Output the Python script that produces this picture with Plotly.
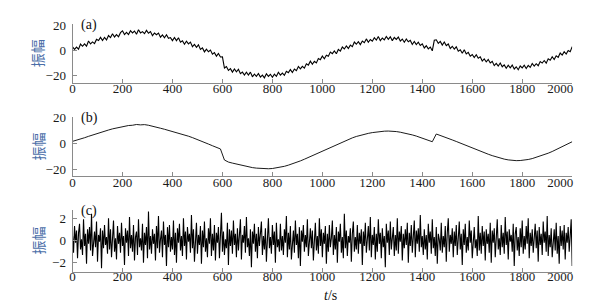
import plotly.graph_objects as go

# ---------------- data ----------------
t_b = list(range(0, 2001, 16))
b_vals = [1.5, 2.3, 3.4, 4.3, 5.4, 6.5, 7.6, 8.6, 9.4, 10.3, 11.2, 12.0, 12.8, 13.4, 13.8, 14.0,
          14.6, 14.3, 14.5, 14.0, 13.4, 12.6, 11.7, 10.9, 10.1, 9.2, 8.5, 7.6, 6.6, 5.5, 4.4, 3.3,
          2.0, 0.8, -0.6, -1.9, -3.2, -4.4, -13.0, -14.6, -15.4, -16.2, -17.0, -17.8, -18.4, -18.9, -19.3, -19.6,
          -19.8, -19.8, -19.6, -19.2, -18.6, -17.9, -17.0, -16.0, -14.9, -13.7, -12.4, -11.0, -9.6, -8.1, -6.6, -5.1,
          -3.6, -2.2, -0.8, 0.6, 1.9, 3.1, 4.2, 5.3, 6.2, 7.0, 7.7, 8.3, 8.8, 9.1, 9.4, 9.5,
          9.4, 9.1, 8.6, 8.0, 7.3, 6.5, 5.6, 4.6, 3.6, 2.5, 1.2, 7.2, 6.2, 5.0, 3.8, 2.6,
          1.4, 0.1, -1.2, -2.5, -3.8, -5.0, -6.2, -7.4, -8.5, -9.6, -10.6, -11.5, -12.3, -12.9, -13.3, -13.5,
          -13.4, -13.1, -12.6, -11.9, -11.0, -10.0, -8.9, -7.7, -6.4, -5.0, -3.6, -2.1, -0.5, 1.2]

t_a = list(range(0, 2001, 8))
a_vals = [2.8, 0.8, 2.7, 1.0, 5.0, 3.3, 5.2, 3.4, 7.4, 5.1, 6.7, 5.4, 8.7, 7.8, 10.3, 7.8,
          10.2, 8.3, 11.7, 10.1, 13.1, 10.6, 12.5, 10.7, 14.0, 15.4, 12.5, 14.2, 12.5, 15.5, 13.8, 15.3,
          12.8, 16.3, 13.8, 14.8, 13.2, 15.8, 13.5, 14.8, 11.6, 13.7, 12.4, 13.7, 10.4, 12.2, 9.9, 12.3,
          9.5, 10.1, 7.7, 10.2, 7.7, 10.0, 6.5, 7.6, 4.9, 7.3, 5.2, 6.6, 3.0, 4.7, 2.4, 4.4,
          0.8, 2.0, -1.1, 1.1, -1.0, 0.3, -2.9, -1.7, -4.5, -2.4, -5.1, -5.0, -13.8, -12.6, -15.7, -14.3,
          -17.0, -14.5, -16.7, -14.7, -18.2, -17.0, -19.3, -17.0, -19.3, -17.0, -20.7, -18.5, -20.3, -18.1, -20.9, -19.4,
          -21.5, -18.3, -20.4, -18.7, -21.0, -18.6, -20.3, -17.1, -19.3, -17.8, -19.5, -16.3, -17.4, -15.0, -17.3, -14.6,
          -15.9, -12.6, -14.5, -12.5, -13.9, -10.4, -11.5, -8.4, -10.8, -8.5, -9.8, -6.3, -7.2, -4.4, -6.5, -3.7,
          -4.6, -1.3, -2.5, -0.3, -2.6, 0.8, -0.5, 2.7, 1.2, 3.5, 1.6, 4.2, 3.0, 6.6, 4.9, 6.9,
          4.6, 7.4, 6.1, 9.1, 6.4, 8.6, 7.3, 10.0, 8.2, 10.9, 7.7, 9.8, 8.3, 11.0, 8.7, 10.7,
          7.7, 10.2, 8.7, 10.5, 7.4, 9.0, 6.5, 9.0, 6.8, 7.9, 4.7, 7.0, 4.6, 6.5, 3.9, 5.2,
          2.0, 3.7, 1.3, 2.7, -0.3, 8.0, 8.4, 5.6, 7.1, 4.2, 6.6, 3.8, 5.1, 1.5, 3.3, 1.1,
          2.9, -0.5, 0.5, -2.2, 0.6, -2.7, -1.5, -4.5, -3.2, -5.5, -3.3, -6.1, -5.0, -8.3, -6.6, -9.0,
          -7.1, -9.8, -8.5, -11.9, -10.1, -12.3, -9.9, -12.8, -11.3, -14.0, -11.6, -13.7, -11.5, -14.5, -12.8, -15.1,
          -12.2, -13.7,
          -11.6, -14.2, -11.7, -13.3, -10.2, -12.3, -10.4, -12.0, -8.7, -9.9, -7.9, -10.0, -6.6, -7.7, -4.9, -7.1,
          -4.2, -5.4, -2.0, -3.6, -0.9, -2.8, 0.0, -0.9, 3.0]

t_c = list(range(0, 2001, 4))
c_vals = [0.4, -1.1, 1.3, -0.2, 0.9, -1.6, 0.7, 1.5, -0.8, 0.1, -1.3, 1.9, -0.5, 0.6, -2.1, 1.0,
          -0.3, 1.2, -0.9, 2.4, -1.4, 0.2, 0.8, -0.6, 1.7, -1.9, 0.5, -0.1, 1.1, -2.5, 0.9, -0.7,
          1.4, -0.4, 0.3, -1.2, 2.0, -0.8, 1.0, -1.5, 0.6, 1.8, -1.0, 0.2, -1.7, 1.3, -0.3, 0.7,
          -1.1, 1.6, -0.5, 0.4, -2.2, 1.1, -0.2, 0.9, -1.4, 2.1, -0.7, 0.5, -1.0, 1.4, -1.8, 0.3,
          0.8, -1.3, 1.9, -0.6, 0.2, -0.9, 1.5, -2.0, 0.7, -0.4, 1.2, -1.6, 2.6, -0.8, 0.4, -1.2,
          1.0, -0.3, 0.6, -1.8, 1.3, -0.7, 2.2, -1.1, 0.1, 0.9, -1.5, 1.7, -0.4, 0.5, -2.3, 1.2,
          -0.6, 1.4, -1.0, 0.3, -0.8, 1.8, -1.3, 0.7, -2.0, 1.1, -0.2, 1.5, -0.9, 0.4, -1.4, 2.0,
          -0.5, 0.8, -1.7, 1.2, -0.1, 0.6, -1.1, 2.3, -0.7, 1.0, -1.9, 0.3, 1.6, -1.2, 0.5, -0.4,
          1.3, -2.1, 0.9, -0.6, 1.7, -1.0, 0.2, -1.5, 1.1, -0.3, 2.0, -1.4, 0.6, -0.9, 1.4, -1.8,
          0.7, -0.2, 1.2, -1.6, 0.4, 2.5, -1.0, 0.8, -1.3, 0.1, -0.7, 1.6, -2.2, 1.0, -0.5, 0.9,
          -1.2, 1.8, -0.4, 0.6, -1.5, 1.1, -0.9, 0.3, 1.9, -1.7, 0.5, -0.2, 1.3, -1.1, 2.1, -0.6,
          0.2, -1.4, 1.0, -2.4, 0.8, -0.3, 1.5, -1.0, 0.6, -1.6, 1.2, -0.5, 0.9, 1.7, -1.3, 0.4,
          -0.8, 1.1, -1.9, 0.5, 2.0, -0.7, 0.3, -1.2, 1.4, -0.4, 0.8, -2.0, 1.6, -0.6, 0.1, -1.0,
          1.5, -0.9, 0.4, -1.3, 1.0, -0.2, 2.2, -1.5, 0.7, -0.8, 1.3, -1.7, 0.2, 0.9, -1.1, 1.8,
          -0.4, 0.6, -1.6, 1.2, -2.3, 0.9, -0.1, 1.4, -1.0, 0.5, -0.6, 1.9, -1.4, 0.3, 1.1, -0.7,
          0.9, -1.8, 0.2, 1.6, -0.9, 0.4, -1.2, 2.0, -0.5, 1.0, -1.5, 0.7, -0.3, 1.3, -2.1, 0.6,
          -1.0, 1.4, -0.6, 0.2, 1.8, -1.3, 0.5, -0.8, 1.2, -2.0, 0.8, -0.1, 1.5, -1.1, 0.3, -1.6,
          2.4, -0.7, 0.9, -1.4, 0.4, -0.2, 1.1, -1.9, 0.6, 1.7, -1.0, 0.3, -0.8, 1.4, -1.2, 0.7,
          -0.3, 1.0, -2.2, 0.8, -0.5, 1.6, -1.1, 0.2, 1.3, -0.9, 2.1, -1.5, 0.5, -0.4, 1.2, -1.7,
          0.6, -1.0, 1.9, -0.3, 0.7, -1.6, 1.1, -0.6, 0.4, -2.4, 1.5, -0.2, 0.9, -1.3, 1.7, -0.8,
          0.3, 1.2, -1.4, 0.5, -0.9, 2.0, -1.2, 0.8, -0.1, 1.3, -1.8, 0.6, -0.7, 1.0, -0.4, 1.6,
          -2.0, 0.7, -0.5, 1.4, -1.1, 0.2, 1.8, -1.5, 0.9, -0.3, 1.1, -1.0, 2.3, -0.6, 0.4, -1.3,
          1.0, -0.8, 0.5, -1.7, 1.5, -0.2, 0.8, -1.2, 1.9, -0.7, 0.3, -1.4, 1.2, -2.1, 0.6, 0.1,
          -0.9, 1.6, -1.1, 0.4, -0.6, 1.3, -1.9, 0.7, 2.0, -1.0, 0.5, -0.3, 1.1, -1.5, 0.8, -0.5,
          1.4, -1.3, 0.2, 1.7, -0.8, 0.6, -2.2, 1.0, -0.4, 1.5, -1.1, 0.3, -0.9, 1.8, -0.2, 0.9,
          -1.6, 0.5, 1.2, -0.7, 0.1, -1.4, 2.2, -0.9, 0.7, -1.2, 1.3, -0.5, 0.8, -1.8, 1.0, -0.3,
          0.6, -1.1, 1.6, -2.0, 0.9, -0.2, 1.1, -1.5, 0.4, 1.9, -0.8, 0.2, -1.3, 1.4, -0.6, 0.7,
          -1.2, 2.1, -0.4, 0.8, -1.7, 1.0, -0.1, 0.5, -1.0, 1.5, -2.3, 0.6, 1.2, -0.9, 0.3, -1.4,
          1.1, -0.6, 1.8, -1.2, 0.4, -0.8, 1.3, -0.3, 2.0, -1.6, 0.7, -0.5, 1.0, -1.1, 0.2, 1.5,
          -0.7, 0.9, -1.9, 1.2, -0.4, 0.6, -1.3, 1.7, -0.2, 0.8, -1.0, 2.2, -1.4, 0.5, -0.6, 1.1,
          -1.5, 0.3, 1.0, -0.9, 1.6, -1.2, 0.4, -2.1, 1.3, -0.5, 0.9, -0.8, 1.4, -1.7, 0.7, -0.2,
          1.2, -1.0, 0.5, 1.9, -2.3]

x_ticks = [0, 200, 400, 600, 800, 1000, 1200, 1400, 1600, 1800, 2000]
x_ticktext = ["0", "200", "400", "600", "800", "1000", "1200", "1400", "1600", "1800", ""]
last_tick = 2000
last_tick_text = "2000"
y_ticks_ab = [-20, 0, 20]
y_ticks_c = [-2, 0, 2]
panel_labels = ["(a)", "(b)", "(c)"]
y_title = "振幅"
x_title = "<i>t</i>/s"

# ---------------- layout helpers ----------------
W, H = 602, 308
def px_x(p):
    return p / W
def px_y(p):
    return 1 - p / H

x_left, x_right = 70, 573
x_dom = [px_x(x_left), px_x(x_right)]
x_range = [0, 2000]
# the reference draws its last tick label ("2000") about 12 px left of its tick;
# an overlaid label-only axis with a shifted range reproduces that offset
shift_units = 12 * (x_range[1] - x_range[0]) / (x_right - x_left)

panels = [  # (top px, bottom px, yrange, yticks, label centre px)
    (17.7, 77.7, [-25.3, 20.6], y_ticks_ab, 89.0),
    (112.7, 174.0, [-25.8, 20.6], y_ticks_ab, 185.0),
    (208.3, 271.7, [-2.8, 2.75], y_ticks_c, 281.5),
]
series = [(t_a, a_vals, 1.1), (t_b, b_vals, 0.9), (t_c, c_vals, 1.1)]

serif = "Liberation Serif, Times New Roman, serif"
axis_col = "#8a8a8a"
tick_font = dict(family=serif, size=13, color="#1a1a1a")

fig = go.Figure()
layout = dict(width=W, height=H, margin=dict(l=0, r=0, t=0, b=0),
              paper_bgcolor="white", plot_bgcolor="white", showlegend=False)
annotations = []
for i, ((top, bot, yr, yt, lab_y), (xs, ys, lw)) in enumerate(zip(panels, series)):
    n = "" if i == 0 else str(i + 1)
    m = str(i + 4)
    fig.add_trace(go.Scatter(x=xs, y=ys, mode="lines",
                             line=dict(color="black", width=lw),
                             xaxis="x" + n, yaxis="y" + n, hoverinfo="skip"))
    standoff = int(round((lab_y - bot) - 17))
    common_x = dict(domain=x_dom, anchor="y" + n, ticks="inside", ticklen=4,
                    ticklabelstandoff=standoff, showline=True, linewidth=1,
                    showgrid=False, zeroline=False, tickfont=tick_font)
    layout["xaxis" + n] = dict(range=x_range, tickvals=x_ticks, ticktext=x_ticktext,
                               tickcolor=axis_col, linecolor=axis_col, **common_x)
    # label-only overlay axis for the shifted "2000"
    fig.add_trace(go.Scatter(x=[], y=[], mode="lines", xaxis="x" + m, yaxis="y" + n,
                             hoverinfo="skip", showlegend=False))
    layout["xaxis" + m] = dict(overlaying="x" + n, side="bottom",
                               range=[x_range[0] + shift_units, x_range[1] + shift_units],
                               tickvals=[last_tick], ticktext=[last_tick_text],
                               tickcolor="rgba(0,0,0,0)", linecolor="rgba(0,0,0,0)", **common_x)
    layout["yaxis" + n] = dict(domain=[px_y(bot), px_y(top)], range=yr, anchor="x" + n,
                               tickvals=yt, ticks="inside", ticklen=4, tickcolor=axis_col,
                               ticklabelstandoff=3,
                               showline=True, linecolor=axis_col, linewidth=1,
                               showgrid=False, zeroline=False, tickfont=tick_font)
    annotations.append(dict(text=y_title, textangle=-90, xref="paper", yref="paper",
                            x=px_x(35), y=px_y((top + bot) / 2), showarrow=False,
                            xanchor="center", yanchor="middle",
                            font=dict(family="Noto Sans CJK SC", size=14, color="#4b6ea8")))
    annotations.append(dict(text=panel_labels[i], xref="paper", yref="paper",
                            x=px_x(87), y=px_y(top + 1.0), showarrow=False,
                            xanchor="center", yanchor="middle",
                            font=dict(family=serif, size=14, color="#111")))

annotations.append(dict(text=x_title, xref="paper", yref="paper",
                        x=px_x(330), y=px_y(296), showarrow=False,
                        xanchor="center", yanchor="middle",
                        font=dict(family=serif, size=14, color="#111")))
layout["annotations"] = annotations
fig.update_layout(**layout)
fig.write_html("out.html", config={"displayModeBar": False},
               post_script="document.body.style.margin='0';document.body.style.overflow='hidden';")
